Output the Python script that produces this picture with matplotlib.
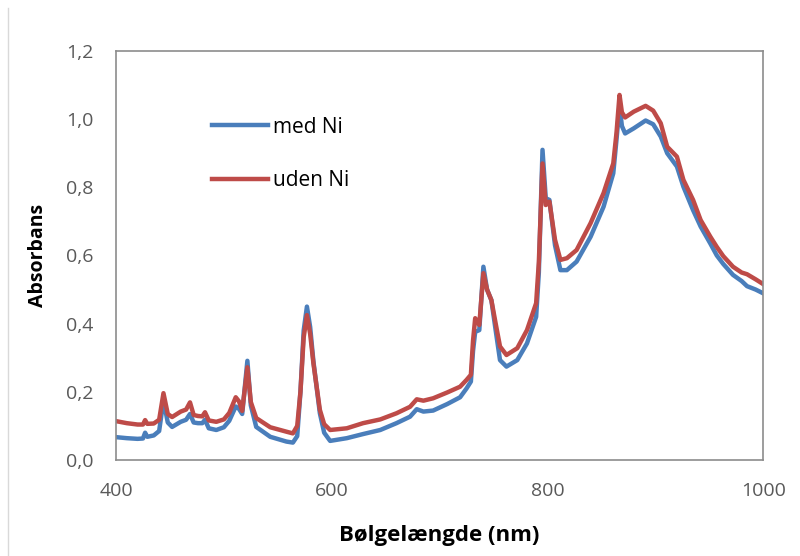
import matplotlib
matplotlib.use("Agg")
import matplotlib.pyplot as plt
from matplotlib.lines import Line2D

# Absorption spectra
wavelength = [
    400, 410, 420, 425, 427, 429, 435, 440, 444, 448, 452, 460, 465, 468.6,
    472, 476, 480, 482.5, 486, 493, 500, 505, 511, 514, 517, 521.8, 525, 530,
    543, 558, 564, 568, 571, 574, 577, 580, 583, 589, 593, 598.5, 614, 629,
    645, 660, 672.6, 678.8, 685, 694, 707, 719, 725, 729, 731, 733, 736.8,
    740.6, 744, 748, 752, 756, 762, 772, 781, 789.5, 792, 795.4, 798.4, 801.8,
    807, 812, 818, 827, 840, 852, 861, 864, 866.8, 869, 872, 880, 891, 898,
    905, 911, 920, 926, 935, 942, 951, 957, 963, 972, 980, 985, 993, 1000,
]
med_ni = [
    0.067, 0.064, 0.062, 0.063, 0.080, 0.068, 0.072, 0.085, 0.175, 0.110,
    0.097, 0.112, 0.118, 0.135, 0.110, 0.108, 0.108, 0.118, 0.093, 0.088,
    0.096, 0.115, 0.157, 0.150, 0.135, 0.291, 0.160, 0.097, 0.068, 0.054,
    0.051, 0.070, 0.200, 0.380, 0.450, 0.390, 0.290, 0.137, 0.080, 0.056,
    0.064, 0.076, 0.088, 0.108, 0.127, 0.149, 0.142, 0.145, 0.164, 0.184,
    0.210, 0.230, 0.320, 0.376, 0.381, 0.567, 0.500, 0.469, 0.380, 0.293,
    0.274, 0.293, 0.342, 0.420, 0.550, 0.910, 0.768, 0.763, 0.630, 0.557,
    0.557, 0.582, 0.655, 0.743, 0.841, 0.940, 1.040, 0.980, 0.958, 0.973,
    0.996, 0.985, 0.949, 0.900, 0.861, 0.802, 0.733, 0.685, 0.635, 0.600,
    0.575, 0.543, 0.525, 0.510, 0.500, 0.489,
]
uden_ni = [
    0.114, 0.108, 0.104, 0.104, 0.117, 0.106, 0.107, 0.118, 0.196, 0.135,
    0.126, 0.142, 0.148, 0.169, 0.132, 0.129, 0.128, 0.140, 0.116, 0.112,
    0.119, 0.138, 0.184, 0.172, 0.144, 0.272, 0.170, 0.123, 0.096, 0.083,
    0.078, 0.100, 0.200, 0.360, 0.425, 0.370, 0.284, 0.147, 0.105, 0.088,
    0.093, 0.108, 0.119, 0.137, 0.156, 0.178, 0.174, 0.181, 0.198, 0.215,
    0.235, 0.250, 0.350, 0.416, 0.396, 0.548, 0.500, 0.469, 0.400, 0.333,
    0.308, 0.328, 0.381, 0.460, 0.580, 0.870, 0.748, 0.758, 0.646, 0.587,
    0.592, 0.616, 0.695, 0.783, 0.870, 0.960, 1.071, 1.020, 1.005, 1.022,
    1.039, 1.025, 0.988, 0.919, 0.890, 0.822, 0.763, 0.704, 0.655, 0.625,
    0.598, 0.567, 0.550, 0.545, 0.530, 0.516,
]

x_ticks = [400, 600, 800, 1000]
y_ticks = [0.0, 0.2, 0.4, 0.6, 0.8, 1.0, 1.2]

plt.rcParams["font.family"] = ["Open Sans", "DejaVu Sans"]

fig = plt.figure(figsize=(8, 5.56), dpi=100)
ax = fig.add_axes([0.145, 0.1727, 0.809, 0.7356])

ax.plot(wavelength, med_ni, color="#4a7ebb", lw=3.2, label="med Ni",
        solid_joinstyle="round")
ax.plot(wavelength, uden_ni, color="#be4b48", lw=3.2, label="uden Ni",
        solid_joinstyle="round")

ax.set_xlim(400, 1000)
ax.set_ylim(0, 1.2)
ax.set_xticks(x_ticks)
ax.set_yticks(y_ticks)
ax.set_yticklabels([f"{v:.1f}".replace(".", ",") for v in y_ticks])
ax.tick_params(length=0, labelsize=14, labelcolor="#595959", pad=16)

for side in ax.spines.values():
    side.set_color("#8c8c8c")
    side.set_linewidth(1.2)

ax.set_xlabel("Bølgelængde (nm)", fontsize=16, fontweight="bold", labelpad=18)
ax.set_ylabel("Absorbans", fontsize=14, fontweight="bold", labelpad=13)

ax.legend(loc="upper left", bbox_to_anchor=(0.135, 0.86), frameon=False,
          fontsize=15, handlelength=2.7, handletextpad=0.25,
          labelspacing=1.55, borderaxespad=0)

# light chart border on the far left
fig.add_artist(Line2D([0.01, 0.01], [0, 0.985], color="#d9d9d9", lw=1))

fig.savefig("out.png", dpi=100)
